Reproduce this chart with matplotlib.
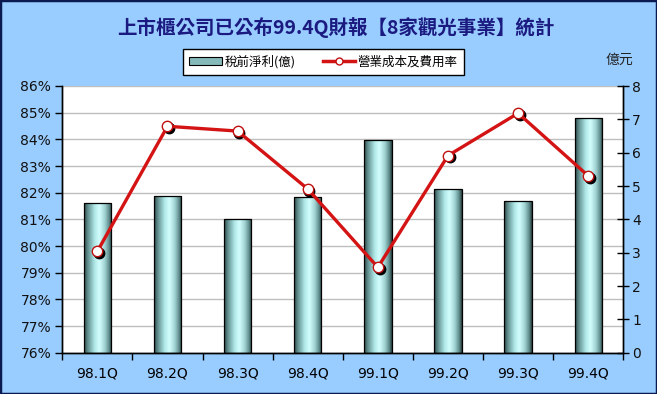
import matplotlib
matplotlib.use("Agg")
import matplotlib.pyplot as plt
import numpy as np
from matplotlib.colors import LinearSegmentedColormap
from matplotlib.patches import Patch, Rectangle
from matplotlib.lines import Line2D
from matplotlib import transforms

categories = ["98.1Q", "98.2Q", "98.3Q", "98.4Q", "99.1Q", "99.2Q", "99.3Q", "99.4Q"]
profit = [4.50, 4.71, 4.02, 4.68, 6.37, 4.92, 4.54, 7.03]          # 稅前淨利(億)
cost_ratio = [79.80, 84.49, 84.31, 82.14, 79.20, 83.39, 84.98, 82.63]  # 營業成本及費用率 (%)
left_ticks = list(range(76, 87))
right_ticks = list(range(0, 9))

title = "上市櫃公司已公布99.4Q財報【8家觀光事業】統計"
bar_label = "稅前淨利(億)"
line_label = "營業成本及費用率"
unit_label = "億元"

CJK = ["Noto Sans CJK TC", "DejaVu Sans"]
LAT = ["DejaVu Sans", "Noto Sans CJK TC"]

fig = plt.figure(figsize=(6.57, 3.94), dpi=100, facecolor="#99CCFF")
fig.patches.append(Rectangle((0, 0), 1, 1, transform=fig.transFigure, fill=False,
                             edgecolor="#0A1A50", linewidth=2.5, zorder=10))

ax = fig.add_axes([62.3 / 657, (394 - 352.7) / 394, (623.3 - 62.3) / 657, (352.7 - 86) / 394])
ax2 = ax.twinx()

x = np.arange(len(categories))

# bars on secondary axis (億元)
cmap = LinearSegmentedColormap.from_list("cyl", [
    (0.0, "#2E4848"), (0.15, "#669494"), (0.38, "#B0E8E8"), (0.55, "#D4FEFE"),
    (0.75, "#A0D2D2"), (0.9, "#608C8C"), (1.0, "#283E3E")])
bars = ax2.bar(x, profit, width=0.39, color="none", edgecolor="black", linewidth=0.9, zorder=3)
grad = np.linspace(0, 1, 256).reshape(1, -1)
for b in bars:
    bx, by, bw, bh = b.get_x(), b.get_y(), b.get_width(), b.get_height()
    im = ax2.imshow(grad, cmap=cmap, aspect="auto", extent=(bx, bx + bw, by, by + bh),
                    zorder=2, interpolation="bicubic")
    im.set_clip_path(b)
ax2.set_ylim(0, 8)
ax2.set_yticks(right_ticks)
ax2.set_xlim(-0.5, len(categories) - 0.5)

# line on primary axis (%)
ax.set_ylim(76, 86)
ax.set_yticks(left_ticks)
ax.set_yticklabels([f"{t}%" for t in left_ticks], family=LAT, fontsize=10)

ax.set_zorder(ax2.get_zorder() + 1)
ax.patch.set_visible(False)
ax2.patch.set_visible(True)
ax2.patch.set_facecolor("white")
for t in left_ticks:
    ax2.axhline((t - 76) / 10 * 8, color="#BEBEBE", linewidth=1.0, zorder=1)

shadow = transforms.offset_copy(ax.transData, fig=fig, x=1.2, y=-1.2, units="points")
ax.plot(x, cost_ratio, linestyle="none", marker="o", markersize=7.5, color="black",
        transform=shadow, zorder=4)
ax.plot(x, cost_ratio, color="#D41414", linewidth=2.4, marker="o", markersize=7.5,
        markerfacecolor="white", markeredgecolor="#C01010", markeredgewidth=1.0, zorder=5)
ax.set_xlim(-0.5, len(categories) - 0.5)

# x ticks at category boundaries, labels at centers
ax.set_xticks(np.arange(-0.5, len(categories), 1.0))
ax.set_xticklabels([])
ax.set_xticks(x, minor=True)
ax.set_xticklabels(categories, minor=True, family=LAT, fontsize=10)
ax.tick_params(axis="x", which="major", direction="out", length=5, width=1, color="black")
ax.tick_params(axis="x", which="minor", length=0, pad=10)
ax.tick_params(axis="y", direction="out", length=5, width=1, color="black", pad=3, labelcolor="#111111")
ax2.tick_params(axis="y", direction="inout", length=9, width=1, color="black", labelsize=10,
                pad=2, labelcolor="#111111")
ax2.tick_params(axis="x", length=0, labelbottom=False)
for lab in ax2.get_yticklabels():
    lab.set_family(LAT)

for a in (ax, ax2):
    a.spines["top"].set_visible(False)
    for s in ("left", "right", "bottom"):
        a.spines[s].set_color("black")
        a.spines[s].set_linewidth(1.0)

# title
fig.text(336 / 657, 1 - 28 / 394, title, ha="center", va="center", family=CJK,
         fontsize=14, color="#1A1A80", fontweight="bold")
# unit label
fig.text(619 / 657, 1 - 60 / 394, unit_label, ha="center", va="center", family=CJK,
         fontsize=10, color="#222222")

# legend
handles = [Patch(facecolor="#86BABA", edgecolor="black", linewidth=0.8),
           Line2D([0], [0], color="#D41414", linewidth=2.5, marker="o", markersize=5,
                  markerfacecolor="white", markeredgecolor="#C01010")]
leg = fig.legend(handles, [bar_label, line_label], loc="upper left",
                 bbox_to_anchor=(183 / 657, 1 - 48.7 / 394), ncol=2, frameon=True,
                 fancybox=False, edgecolor="black", framealpha=1, facecolor="white",
                 prop={"family": CJK, "size": 9}, handlelength=2.6, handleheight=0.6,
                 columnspacing=2.2, handletextpad=0.2, borderpad=0.5, borderaxespad=0)
leg.get_frame().set_linewidth(1.0)

fig.savefig("out.png", dpi=100, facecolor=fig.get_facecolor())
